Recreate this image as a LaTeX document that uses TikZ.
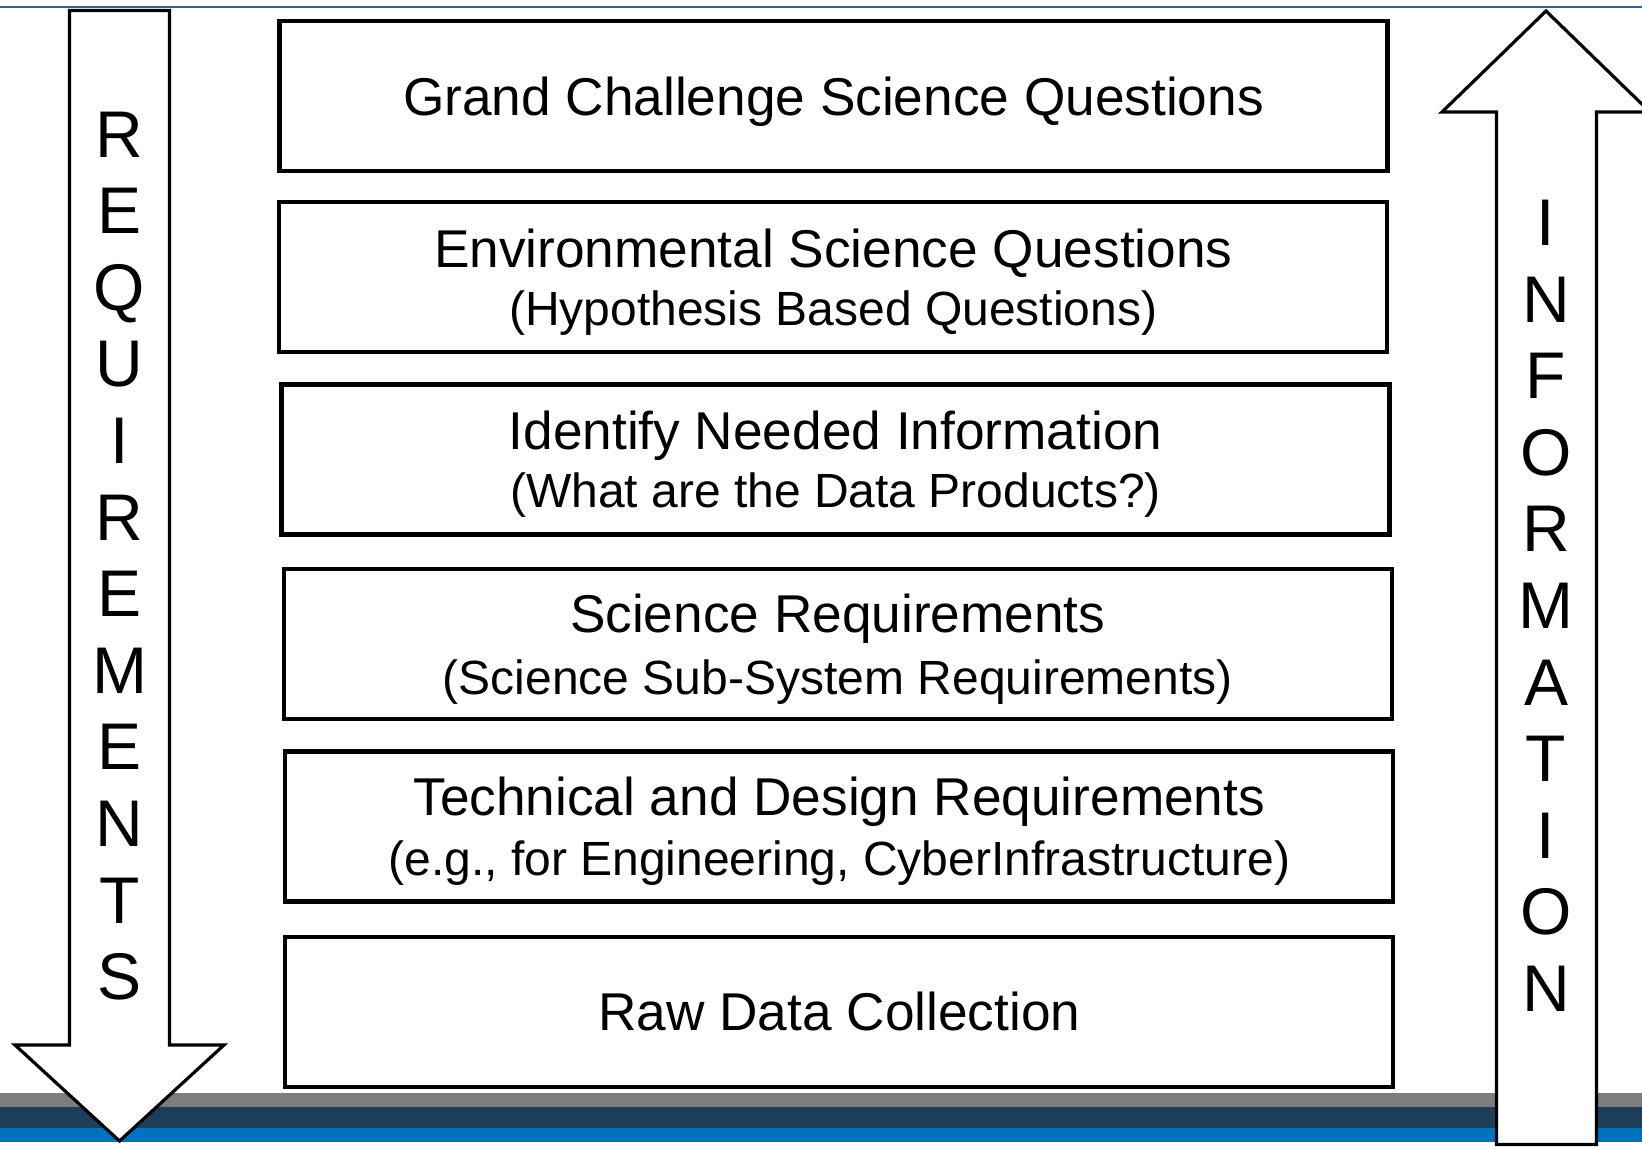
\documentclass[tikz,border=0pt]{standalone}
\usepackage{fontspec}
\setmainfont{Liberation Sans}
\usetikzlibrary{calc}

\definecolor{rulecol}{RGB}{60,95,140}
\definecolor{bandgray}{RGB}{125,125,125}
\definecolor{banddark}{RGB}{30,61,88}
\definecolor{bandblue}{RGB}{0,114,188}
\newcommand{\subline}[1]{{\fontsize{24}{28.9}\selectfont #1}}

\begin{document}
\begin{tikzpicture}
	[   x=0.5pt, y=-0.5pt,
	    stagebox/.style={draw=black,line width=2.1pt,fill=white,minimum width=554pt,minimum height=75pt,
	        inner sep=0pt,align=center,text depth=0pt,font=\fontsize{26.6}{28.9}\selectfont},
	    bigarrow/.style={draw=black,line width=1.6pt,fill=white},
	    letter/.style={anchor=base,inner sep=0pt,font=\fontsize{33}{33}\selectfont},
	]
	\useasboundingbox (0,0) rectangle (1642,1148);
	\clip (0,0) rectangle (1642,1148);
	
	% top rule and bottom band
	\draw[rulecol,line width=1pt] (0,7) -- (1642,7);
	\fill[bandgray] (0,1093) rectangle (1642,1107);
	\fill[banddark] (0,1107) rectangle (1642,1128);
	\fill[bandblue] (0,1128) rectangle (1642,1142);
	
	% the two big arrows
	\path[bigarrow] (69.5,10.5) -- (169.5,10.5) -- (169.5,1045) -- (224,1045)
	    -- (119.5,1141) -- (15,1045) -- (69.5,1045) -- cycle;
	\path[bigarrow] (1496.5,1144.5) -- (1496.5,112) -- (1442,112) -- (1546,11)
	    -- (1650,112) -- (1596.5,112) -- (1596.5,1144.5) -- cycle;
	
	\foreach \l [count=\i] in {R,E,Q,U,I,R,E,M,E,N,T,S}
	{
		\node[letter] (req-\i) at (119.5,{157+76.6*(\i-1)}) {\l};
	}
	\foreach \l [count=\i] in {I,N,F,O,R,M,A,T,I,O,N}
	{
		\node[letter] (inf-\i) at (1546,{245.5+76.6*(\i-1)}) {\l};
	}
	
	% stages
	\node[stagebox] (grand) at (833.5,96.3) {Grand Challenge Science Questions};
	\node[stagebox] (env) at (833.3,277) {Environmental Science Questions\\\subline{(Hypothesis Based Questions)}};
	\node[stagebox] (info) at (835.5,459.4) {Identify Needed Information\\\subline{(What are the Data Products?)}};
	\node[stagebox] (sreq) at (837.7,644) {Science Requirements\\[2pt]\subline{(Science Sub-System Requirements)}};
	\node[stagebox] (treq) at (839.3,826.4) {Technical and Design Requirements\\[1pt]\subline{(e.g., for Engineering, CyberInfrastructure)}};
	\node[stagebox] (raw) at (839.3,1011.7) {Raw Data Collection};
\end{tikzpicture}
\end{document}
